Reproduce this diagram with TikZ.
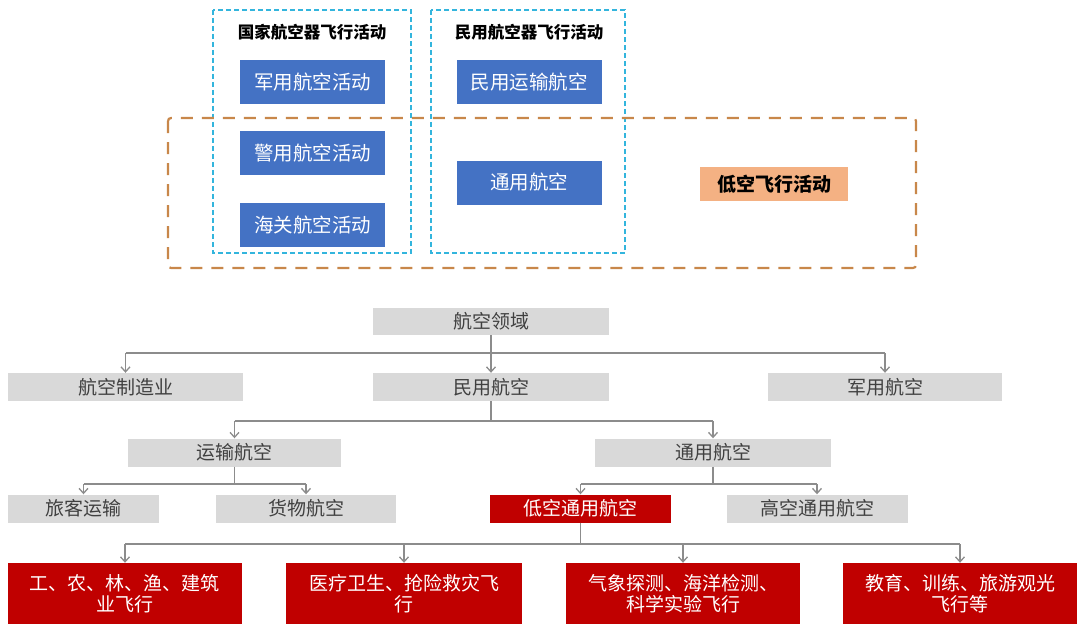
\documentclass[tikz,border=0pt]{standalone}
\usepackage{fontspec}
\usepackage{xcolor}
\usepackage{tikz}
\usetikzlibrary{arrows.meta,positioning}
\newfontfamily\cjk{Noto Sans CJK SC}
\definecolor{boxgrey}{HTML}{D9D9D9}
\definecolor{txtgrey}{HTML}{404040}
\definecolor{lnkgrey}{HTML}{8C8C8C}
\definecolor{lowred}{HTML}{C00000}
\definecolor{actblue}{HTML}{4472C4}
\definecolor{lowor}{HTML}{F4B183}
\definecolor{frcyan}{HTML}{33B5DD}
\definecolor{frorange}{HTML}{C8874A}

\begin{document}
\begin{tikzpicture}[
  x=1pt, y=-1pt,
  font=\cjk,
  gbox/.style={fill=boxgrey, text=txtgrey, inner sep=0pt, minimum height=28pt, align=center, font=\cjk\fontsize{19}{20}\selectfont},
  rbox/.style={gbox, fill=lowred, text=white},
  usebox/.style={rbox, minimum height=61pt, font=\cjk\fontsize{19}{21}\selectfont},
  bbox/.style={fill=actblue, text=white, inner sep=0pt, minimum width=145pt, minimum height=44pt, font=\cjk\fontsize{19.5}{21}\selectfont},
  ttl/.style={font=\cjk\bfseries\fontsize{16.5}{18}\selectfont},
  lnk/.style={draw=lnkgrey, line width=1.3pt},
  arr/.style={lnk, -{Straight Barb[length=5pt, width=9pt]}}
]
\useasboundingbox (0,0) rectangle (1080,626);

% top: flight activities
\draw[frcyan, line width=2pt, dash pattern=on 5pt off 3pt] (213,10) rectangle (411,253);
\draw[frcyan, line width=2pt, dash pattern=on 5pt off 3pt] (431,10) rectangle (625,253);
\draw[frorange, line width=2.2pt, dash pattern=on 12pt off 9pt, rounded corners=3pt] (168,118) rectangle (916,268);
\node[ttl] (nat) at (312,32) {国家航空器飞行活动};
\node[ttl] (civ) at (529,32) {民用航空器飞行活动};
\node[bbox] (mil) at (312.5,82) {军用航空活动};
\node[bbox, below=27pt of mil] (pol) {警用航空活动};
\node[bbox, below=27pt of pol] (cus) {海关航空活动};
\node[bbox] (ctr) at (529,82) {民用运输航空};
\node[bbox] (cga) at (529,182.5) {通用航空};
\node[fill=lowor, minimum width=148pt, minimum height=34pt, inner sep=0pt,
      font=\cjk\bfseries\fontsize{19}{20}\selectfont] (low) at (774,184) {低空飞行活动};

% bottom: tree
\node[gbox, minimum width=236pt, minimum height=27pt] (root) at (491,321.5) {航空领域};
\node[gbox, minimum width=235pt] (manuf) at (125.5,387) {航空制造业};
\node[gbox, minimum width=236pt] (civil) at (491,387) {民用航空};
\node[gbox, minimum width=234pt] (army) at (885,387) {军用航空};
\node[gbox, minimum width=213pt] (trans) at (234.5,452.5) {运输航空};
\node[gbox, minimum width=236pt] (gen) at (713,452.5) {通用航空};
\node[gbox, minimum width=151pt] (pass) at (83.5,508.5) {旅客运输};
\node[gbox, minimum width=180pt] (cargo) at (306,508.5) {货物航空};
\node[rbox, minimum width=181pt] (lowga) at (580.5,508.5) {低空通用航空};
\node[gbox, minimum width=181pt] (high) at (817,508.5) {高空通用航空};
\node[usebox, minimum width=234pt] (use1) at (125,593.5) {工、农、林、渔、建筑\\业飞行};
\node[usebox, minimum width=236pt] (use2) at (404,593.5) {医疗卫生、抢险救灾飞\\行};
\node[usebox, minimum width=234pt] (use3) at (683,593.5) {气象探测、海洋检测、\\科学实验飞行};
\node[usebox, minimum width=234pt] (use4) at (960,593.5) {教育、训练、旅游观光\\飞行等};

\coordinate (bus1) at (0,353);
\coordinate (bus2) at (0,421);
\coordinate (bus3) at (0,484);
\coordinate (bus4) at (0,544);

\draw[lnk] (root) -- (root |- bus1);
\draw[lnk] (manuf |- bus1) -- (army |- bus1);
\foreach \n in {manuf,civil,army} \draw[arr] (\n |- bus1) -- (\n);

\draw[lnk] (civil) -- (civil |- bus2);
\draw[lnk] (trans |- bus2) -- (gen |- bus2);
\foreach \n in {trans,gen} \draw[arr] (\n |- bus2) -- (\n);

\draw[lnk] (trans) -- (trans |- bus3);
\draw[lnk] (pass |- bus3) -- (cargo |- bus3);
\foreach \n in {pass,cargo} \draw[arr] (\n |- bus3) -- (\n);

\draw[lnk] (gen) -- (gen |- bus3);
\draw[lnk] (lowga |- bus3) -- (high |- bus3);
\foreach \n in {lowga,high} \draw[arr] (\n |- bus3) -- (\n);

\draw[lnk] (lowga) -- (lowga |- bus4);
\draw[lnk] (use1 |- bus4) -- (use4 |- bus4);
\foreach \n in {use1,use2,use3,use4} \draw[arr] (\n |- bus4) -- (\n);
\end{tikzpicture}
\end{document}
